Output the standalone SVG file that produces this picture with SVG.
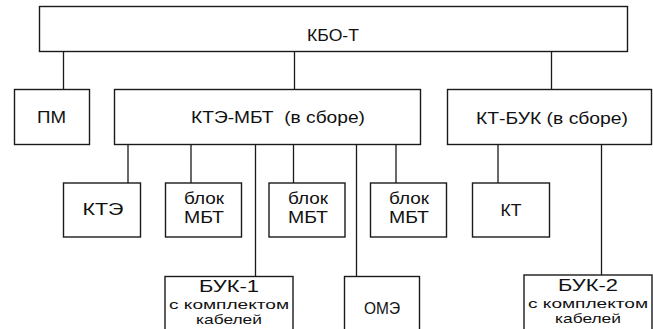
<svg xmlns="http://www.w3.org/2000/svg" width="653" height="329" viewBox="0 0 653 329">
<style>
.box{fill:#fff;stroke:#1a1a1a;stroke-width:1.4}
.ln{stroke:#1a1a1a;stroke-width:1.3;fill:none}
text{font-family:"Liberation Sans",Arial,sans-serif;fill:#111;text-anchor:middle;white-space:pre}
.m{font-size:16px}
.s{font-size:13px}
</style>
<rect width="653" height="329" fill="#fff"/>
<g id="connectors">
<path class="ln" d="M63.5 51.5V89.5M294.5 51.5V89.5M551.5 51.5V89.5"/>
<path class="ln" d="M128 144V183M191 144V183M293.5 144V183M396 144V183M255.5 144V276.5M356.5 144V276.5"/>
<path class="ln" d="M498 144V183M601.5 144V275"/>
</g>
<g id="kbo"><rect class="box" x="39.5" y="6.5" width="588" height="45"/><text class="m" x="333" y="41" textLength="52" lengthAdjust="spacingAndGlyphs">КБО-Т</text></g>
<g id="pm"><rect class="box" x="14.5" y="89.5" width="75" height="55"/><text class="m" x="51.5" y="123" textLength="29" lengthAdjust="spacingAndGlyphs">ПМ</text></g>
<g id="kte-mbt"><rect class="box" x="114.5" y="89.5" width="306" height="55"/><text class="m" x="278" y="123" textLength="174" lengthAdjust="spacingAndGlyphs">КТЭ-МБТ  (в сборе)</text></g>
<g id="kt-buk"><rect class="box" x="447.5" y="89.5" width="204" height="55"/><text class="m" x="552" y="124" textLength="152" lengthAdjust="spacingAndGlyphs">КТ-БУК (в сборе)</text></g>
<g id="kte"><rect class="box" x="63.5" y="183" width="77" height="54"/><text class="m" x="103" y="215" textLength="41" lengthAdjust="spacingAndGlyphs">КТЭ</text></g>
<g id="mbt1"><rect class="box" x="165.5" y="183" width="76" height="54"/><text class="m" x="204" y="204" textLength="40" lengthAdjust="spacingAndGlyphs">блок</text><text class="m" x="204" y="223" textLength="40" lengthAdjust="spacingAndGlyphs">МБТ</text></g>
<g id="mbt2"><rect class="box" x="269" y="183" width="76" height="54"/><text class="m" x="308" y="204" textLength="40" lengthAdjust="spacingAndGlyphs">блок</text><text class="m" x="308" y="223" textLength="40" lengthAdjust="spacingAndGlyphs">МБТ</text></g>
<g id="mbt3"><rect class="box" x="370.5" y="183" width="76" height="54"/><text class="m" x="409" y="204" textLength="40" lengthAdjust="spacingAndGlyphs">блок</text><text class="m" x="409" y="223" textLength="40" lengthAdjust="spacingAndGlyphs">МБТ</text></g>
<g id="kt"><rect class="box" x="472.5" y="183" width="77" height="54"/><text class="m" x="511" y="216" textLength="21" lengthAdjust="spacingAndGlyphs">КТ</text></g>
<g id="buk1"><rect class="box" x="165" y="276.5" width="128" height="70"/><text class="m" x="229" y="292" textLength="60" lengthAdjust="spacingAndGlyphs">БУК-1</text><text class="s" x="229" y="309" textLength="120" lengthAdjust="spacingAndGlyphs">с комплектом</text><text class="s" x="229" y="324" textLength="66" lengthAdjust="spacingAndGlyphs">кабелей</text></g>
<g id="ome"><rect class="box" x="344.5" y="276.5" width="75" height="70"/><text class="m" x="382" y="314" textLength="36" lengthAdjust="spacingAndGlyphs">ОМЭ</text></g>
<g id="buk2"><rect class="box" x="524" y="275" width="128" height="70"/><text class="m" x="588" y="291" textLength="60" lengthAdjust="spacingAndGlyphs">БУК-2</text><text class="s" x="588" y="308" textLength="120" lengthAdjust="spacingAndGlyphs">с комплектом</text><text class="s" x="588" y="323" textLength="66" lengthAdjust="spacingAndGlyphs">кабелей</text></g>
</svg>
